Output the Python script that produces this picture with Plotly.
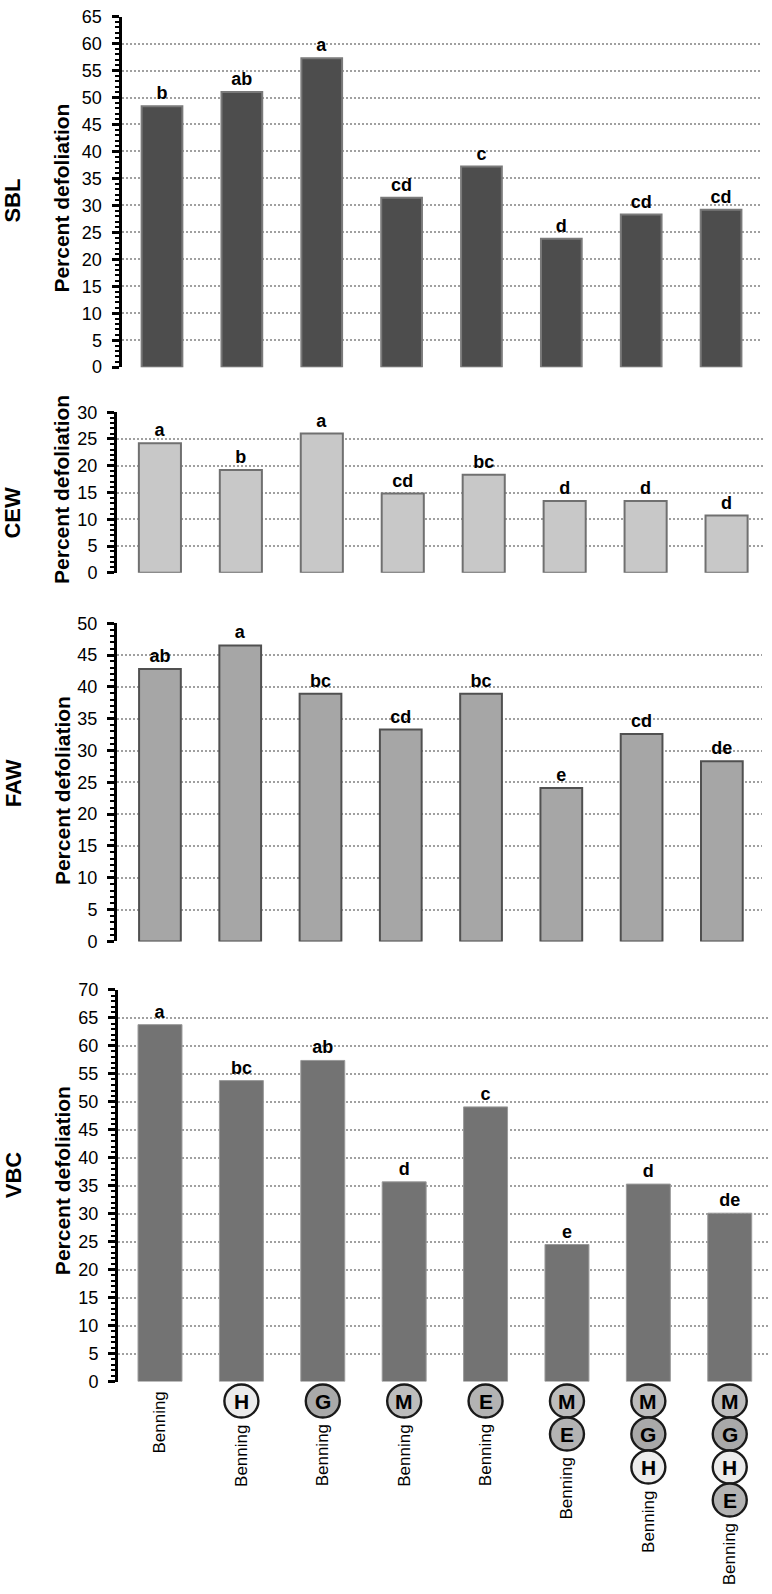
import plotly.graph_objects as go

# ---------------- data ----------------
categories = ["Benning", "Benning+H", "Benning+G", "Benning+M", "Benning+E",
              "Benning+M+E", "Benning+M+G+H", "Benning+M+G+H+E"]
components = [[], ["H"], ["G"], ["M"], ["E"], ["M", "E"], ["M", "G", "H"], ["M", "G", "H", "E"]]
base_label = "Benning"

panel_names = ["SBL", "CEW", "FAW", "VBC"]
sbl = [48.4, 51.0, 57.3, 31.4, 37.2, 23.8, 28.3, 29.2]
sbl_letters = ["b", "ab", "a", "cd", "c", "d", "cd", "cd"]
cew = [24.2, 19.2, 26.0, 14.8, 18.3, 13.4, 13.4, 10.7]
cew_letters = ["a", "b", "a", "cd", "bc", "d", "d", "d"]
faw = [42.8, 46.5, 38.9, 33.3, 38.9, 24.1, 32.6, 28.3]
faw_letters = ["ab", "a", "bc", "cd", "bc", "e", "cd", "de"]
vbc = [63.8, 53.8, 57.4, 35.7, 49.1, 24.5, 35.3, 30.1]
vbc_letters = ["a", "bc", "ab", "d", "c", "e", "d", "de"]
y_max = [65, 30, 50, 70]
y_title = "Percent defoliation"

series = [sbl, cew, faw, vbc]
letters = [sbl_letters, cew_letters, faw_letters, vbc_letters]

# ---------------- layout / style ----------------
W, H = 772, 1594
FONT = "Liberation Sans, Arial, Helvetica, sans-serif"

# pixel geometry of each panel: (left, right, top, bottom)
geom = [(121.5, 761, 6.7, 361.7),
        (117, 763, 407.3, 570),
        (117, 762, 621, 943.3),
        (118, 768, 992.4, 1389)]
xranges = [[-0.507, 7.5], [-0.53, 7.45], [-0.535, 7.5], [-0.516, 7.47]]
fills = ["#4d4d4d", "#c8c8c8", "#a6a6a6", "#737373"]
outlines = ["#7a7a7a", "#707070", "#505050", "#9a9a9a"]
outline_w = [2, 2, 2, 1]
bar_w = [0.51, 0.52, 0.52, 0.54]
panel_label_y = [193, 509, 783, 1180]
title_y = [190, 485, 790, 1185]
circle_fill = {"H": "#ececec", "G": "#a9a9a9", "M": "#bdbdbd", "E": "#b3b3b3"}

fig = go.Figure()
layout = dict(width=W, height=H, margin=dict(l=0, r=0, t=0, b=0),
              paper_bgcolor="white", plot_bgcolor="white", showlegend=False,
              font=dict(family=FONT, color="black"))
annotations = []
shapes = []

for i in range(4):
    n = "" if i == 0 else str(i + 1)
    left, right, top, bottom = geom[i]
    xd = [left / W, right / W]
    yd = [1 - bottom / H, 1 - top / H]
    fig.add_trace(go.Bar(
        x=categories, y=series[i], xaxis="x" + n, yaxis="y" + n,
        width=bar_w[i],
        marker=dict(color=fills[i], line=dict(color=outlines[i], width=outline_w[i])),
        text=letters[i], textposition="outside", constraintext="none",
        outsidetextfont=dict(family=FONT, size=18, color="black", weight="bold"),
        cliponaxis=False, hoverinfo="skip"))
    layout["xaxis" + n] = dict(domain=xd, range=xranges[i], anchor="y" + n, type="category",
                               showticklabels=False, ticks="", showgrid=False,
                               showline=False, zeroline=False)
    layout["yaxis" + n] = dict(domain=yd, range=[0, y_max[i]], anchor="x" + n,
                               tick0=0, dtick=5, ticks="outside", ticklen=7, tickwidth=3,
                               tickcolor="black", showline=True, linecolor="black", linewidth=3,
                               showgrid=True, gridcolor="#a0a0a0", griddash="2px,2px", gridwidth=2,
                               zeroline=False, ticklabelstandoff=6,
                               tickfont=dict(family=FONT, size=18, color="black"),
                               minor=dict(dtick=1, ticks="outside", ticklen=4, tickwidth=2,
                                          tickcolor="black", showgrid=False))
    annotations.append(dict(text=panel_names[i], xref="paper", yref="paper",
                            x=13 / W, y=1 - panel_label_y[i] / H, textangle=-90,
                            showarrow=False, xanchor="center", yanchor="middle",
                            font=dict(family=FONT, size=22, weight="bold")))
    annotations.append(dict(text=y_title, xref="paper", yref="paper",
                            x=62 / W, y=1 - title_y[i] / H, textangle=-90,
                            showarrow=False, xanchor="center", yanchor="middle",
                            font=dict(family=FONT, size=21, weight="bold")))

# x labels below the bottom panel
y_zero = 1 - geom[3][3] / H
D = 33
for cat, comps in zip(categories, components):
    for k, c in enumerate(comps):
        shapes.append(dict(type="circle", xref="x4", yref="paper",
                           xsizemode="pixel", ysizemode="pixel",
                           xanchor=cat, yanchor=y_zero,
                           x0=-17, x1=17, y0=-3 - D * k, y1=-3 - D * (k + 1),
                           fillcolor=circle_fill[c], line=dict(color="#1a1a1a", width=2.4),
                           layer="above"))
        annotations.append(dict(text=c, xref="x4", yref="paper", x=cat, y=y_zero,
                                yshift=-(19.5 + D * k), showarrow=False,
                                xanchor="center", yanchor="middle",
                                font=dict(family=FONT, size=21, weight="bold", color="black")))
    annotations.append(dict(text=base_label, xref="x4", yref="paper", x=cat, y=y_zero,
                            yshift=-(8 + D * len(comps)), textangle=-90, showarrow=False,
                            xanchor="center", yanchor="top",
                            font=dict(family=FONT, size=17, color="black")))

layout["annotations"] = annotations
layout["shapes"] = shapes
fig.update_layout(**layout)
fig.write_html("out.html", config={"displayModeBar": False, "staticPlot": True},
               post_script="document.body.style.margin='0px';document.body.style.padding='0px';")
